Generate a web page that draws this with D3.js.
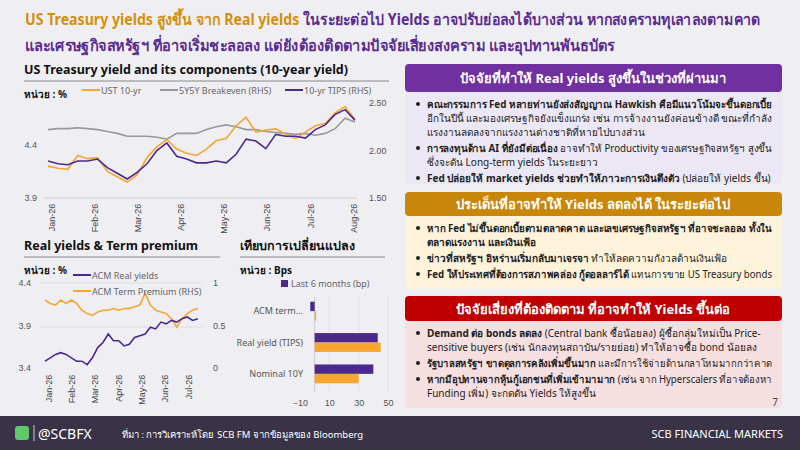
<!DOCTYPE html>
<html><head><meta charset="utf-8">
<script src="https://cdn.jsdelivr.net/npm/d3@7"></script>
<style>body{margin:0;background:#efeff3}svg{display:block;font-family:"Noto Sans",Tahoma,sans-serif}</style>
</head><body><svg id="c" width="800" height="450"></svg>
<script>
// data: chart 1 (weekly from early Jan 2026)
const ust10 = [4.20,4.18,4.17,4.30,4.27,4.28,4.15,4.10,4.05,4.12,4.28,4.38,4.45,4.36,4.32,4.30,4.36,4.44,4.46,4.58,4.66,4.52,4.54,4.55,4.50,4.46,4.52,4.58,4.60,4.70,4.76,4.64]
const breakeven = [2.22,2.23,2.23,2.24,2.23,2.22,2.20,2.18,2.15,2.15,2.15,2.14,2.12,2.18,2.18,2.18,2.22,2.25,2.27,2.25,2.22,2.22,2.20,2.19,2.18,2.17,2.18,2.16,2.18,2.23,2.34,2.30]
const tips10 = [1.89,1.86,1.85,1.89,1.89,1.91,1.82,1.76,1.70,1.77,1.86,2.00,2.08,1.94,1.91,1.87,1.87,1.89,1.87,1.96,2.12,2.10,2.02,2.17,2.15,2.15,2.13,2.22,2.27,2.38,2.43,2.32]
const months1 = ['Jan-26','Feb-26','Mar-26','Apr-26','May-26','Jun-26','Jul-26','Aug-26']
// chart 2
const acmReal = [3.48,3.52,3.56,3.58,3.56,3.52,3.48,3.48,3.44,3.52,3.64,3.70,3.80,3.72,3.72,3.66,3.68,3.76,3.78,3.80,3.88,3.86,3.94,3.92,3.96,3.94,3.98,4.00,3.96,3.98]
const acmTerm = [0.80,0.76,0.74,0.80,0.76,0.80,0.76,0.68,0.64,0.62,0.66,0.68,0.68,0.70,0.68,0.70,0.70,0.72,0.74,0.88,0.74,0.68,0.66,0.64,0.58,0.48,0.58,0.64,0.68,0.70]
const months2 = ['Jan-26','Feb-26','Mar-26','Apr-26','May-26','Jun-26','Jul-26']
// chart 3
const barCats = ['ACM term...','Real yield (TIPS)','Nominal 10Y']
const barLast6 = [-3,43,40]
const barOther = [1,45,30]

const svg = d3.select('#c')
const PUR = '#4b2a8c', ORA = '#f7a531', GRY = '#999'

// headline
const h = svg.append('text').attr('x',25).attr('y',25).attr('font-size',15.5).attr('font-weight','bold')
  .attr('textLength',735).attr('lengthAdjust','spacingAndGlyphs')
h.append('tspan').attr('fill','#d4900a').text('US Treasury yields สูงขึ้น จาก Real yields ')
h.append('tspan').attr('fill','#5b2d8e').text('ในระยะต่อไป Yields อาจปรับย่อลงได้บางส่วน หากสงครามทุเลาลงตามคาด')
svg.append('text').attr('x',25).attr('y',51).attr('font-size',15.5).attr('font-weight','bold').attr('fill','#5b2d8e')
  .attr('textLength',590).attr('lengthAdjust','spacingAndGlyphs')
  .text('และเศรษฐกิจสหรัฐฯ ที่อาจเริ่มชะลอลง แต่ยังต้องติดตามปัจจัยเสี่ยงสงคราม และอุปทานพันธบัตร')

function title(x, y, w, t) {
  svg.append('text').attr('x',x).attr('y',y).attr('font-size',12.5).attr('font-weight','bold').attr('fill','#111').text(t)
  svg.append('line').attr('x1',x).attr('x2',x+w).attr('y1',y+7).attr('y2',y+7).attr('stroke','#888').attr('stroke-width',1)
  svg.append('text').attr('x',x).attr('y',y+24).attr('font-size',10).attr('font-weight','bold').attr('fill','#111')
    .text(t.startsWith('เทียบ') ? 'หน่วย : Bps' : 'หน่วย : %')
}
function monthAxis(x, y, labels) {
  svg.append('g').attr('transform',`translate(0,${y})`).call(d3.axisBottom(x).tickValues(d3.range(labels.length)).tickSize(0).tickFormat(i => labels[i]))
    .call(g => g.select('.domain').remove())
    .selectAll('text').attr('font-size',9).attr('fill','#444').attr('transform','rotate(-90)').attr('text-anchor','end').attr('dx','-0.3em').attr('dy','0.35em')
}
function yAxis(scale, x, vals, fmt, right) {
  const a = (right ? d3.axisRight(scale) : d3.axisLeft(scale)).tickValues(vals).tickSize(0).tickFormat(fmt)
  svg.append('g').attr('transform',`translate(${x},0)`).call(a).call(g => g.select('.domain').remove())
    .selectAll('text').attr('font-size',9).attr('fill','#555')
}
function legendLine(x, y, c, t) {
  svg.append('line').attr('x1',x).attr('x2',x+18).attr('y1',y).attr('y2',y).attr('stroke',c).attr('stroke-width',2)
  svg.append('text').attr('x',x+19).attr('y',y+3.5).attr('font-size',9).attr('fill','#666').text(t)
}

// chart 1
title(24, 74, 365, 'US Treasury yield and its components (10-year yield)')
const x1 = d3.scaleLinear().domain([0,7]).range([48,350])
const xw1 = i => x1(i * 7 / 30.5)
const yL1 = d3.scaleLinear().domain([3.9,4.85]).range([198,97])
const yR1 = d3.scaleLinear().domain([1.5,2.5]).range([198,103])
svg.append('line').attr('x1',44).attr('x2',357).attr('y1',198).attr('y2',198).attr('stroke','#ccc')
yAxis(yL1, 40, [3.9,4.4], d3.format('.1f'), false)
yAxis(yR1, 366, [1.5,2.0,2.5], d3.format('.2f'), true)
monthAxis(x1, 201, months1)
const ln = (xf, yf) => d3.line().x((d,i) => xf(i)).y(yf)
svg.append('path').datum(breakeven).attr('d', ln(xw1, yR1)).attr('fill','none').attr('stroke',GRY).attr('stroke-width',1.6)
svg.append('path').datum(ust10).attr('d', ln(xw1, yL1)).attr('fill','none').attr('stroke',ORA).attr('stroke-width',1.6)
svg.append('path').datum(tips10).attr('d', ln(xw1, yR1)).attr('fill','none').attr('stroke',PUR).attr('stroke-width',1.6)
legendLine(82, 90, ORA, 'UST 10-yr')
legendLine(160, 90, GRY, '5Y5Y Breakeven (RHS)')
legendLine(285, 90, PUR, '10-yr TIPS (RHS)')

// chart 2
title(24, 250, 196, 'Real yields & Term premium')
const x2 = d3.scaleLinear().domain([0,6]).range([45,185])
const xw2 = i => x2(i * 6.55 / 29)
const yL2 = d3.scaleLinear().domain([3.4,4.4]).range([368,283])
const yR2 = d3.scaleLinear().domain([0,1]).range([368,283])
svg.append('line').attr('x1',40).attr('x2',202).attr('y1',283).attr('y2',283).attr('stroke','#ddd')
svg.append('line').attr('x1',40).attr('x2',202).attr('y1',327).attr('y2',327).attr('stroke','#ddd')
yAxis(yL2, 34, [3.4,3.9,4.4], d3.format('.1f'), false)
yAxis(yR2, 210, [0,0.5,1], d3.format(''), true)
monthAxis(x2, 372, months2)
svg.append('path').datum(acmTerm).attr('d', ln(xw2, yR2)).attr('fill','none').attr('stroke',ORA).attr('stroke-width',1.6)
svg.append('path').datum(acmReal).attr('d', ln(xw2, yL2)).attr('fill','none').attr('stroke',PUR).attr('stroke-width',1.6)
legendLine(73, 275, PUR, 'ACM Real yields')
legendLine(73, 291, ORA, 'ACM Term Premium (RHS)')

// chart 3
title(240, 250, 145, 'เทียบการเปลี่ยนแปลง')
const xb = d3.scaleLinear().domain([-10,50]).range([300,388])
const yb = d3.scaleBand().domain(barCats).range([297,388]).paddingInner(0.4).paddingOuter(0.15)
svg.append('g').attr('transform','translate(0,397)').call(d3.axisBottom(xb).tickValues([-10,10,30,50]).tickSize(0))
  .call(g => g.select('.domain').remove()).selectAll('text').attr('font-size',9).attr('fill','#555')
;[10,30,50].forEach(v => svg.append('line').attr('x1',xb(v)).attr('x2',xb(v)).attr('y1',297).attr('y2',392).attr('stroke','#e2e2e2'))
svg.append('line').attr('x1',xb(0)).attr('x2',xb(0)).attr('y1',297).attr('y2',392).attr('stroke','#ccc')
const bh = yb.bandwidth() / 2
svg.selectAll('.b1').data(barCats).join('rect').attr('x', (d,i) => xb(Math.min(0,barLast6[i]))).attr('y', d => yb(d))
  .attr('width', (d,i) => Math.abs(xb(barLast6[i]) - xb(0))).attr('height', bh).attr('fill', PUR)
svg.selectAll('.b2').data(barCats).join('rect').attr('x', (d,i) => xb(Math.min(0,barOther[i]))).attr('y', d => yb(d) + bh)
  .attr('width', (d,i) => Math.abs(xb(barOther[i]) - xb(0))).attr('height', bh).attr('fill', ORA)
svg.selectAll('.bl').data(barCats).join('text').attr('x', 303).attr('y', d => yb(d) + bh + 3).attr('text-anchor','end')
  .attr('font-size',9).attr('fill','#555').text(d => d)
svg.append('rect').attr('x',281).attr('y',280).attr('width',7).attr('height',7).attr('fill',PUR)
svg.append('text').attr('x',291).attr('y',287).attr('font-size',9).attr('fill','#666').text('Last 6 months (bp)')

// right panels
const panels = [
  {y:64, hh:28, bh:92, hc:'#7030a0', bc:'#ebe7f4', t:'ปัจจัยที่ทำให้ Real yields สูงขึ้นในช่วงที่ผ่านมา', items:[
    [['คณะกรรมการ Fed หลายท่านยังส่งสัญญาณ Hawkish คือมีแนวโน้มจะขึ้นดอกเบี้ย',1],['อีกในปีนี้ และมองเศรษฐกิจยังแข็งแกร่ง เช่น การจ้างงานยังค่อนข้างดี ขณะที่กำลัง',0],['แรงงานลดลงจากแรงงานต่างชาติที่หายไปบางส่วน',0]],
    [['การลงทุนด้าน AI ที่ยังมีต่อเนื่อง',1,' อาจทำให้ Productivity ของเศรษฐกิจสหรัฐฯ สูงขึ้น'],['ซึ่งจะดัน Long-term yields ในระยะยาว',0]],
    [['Fed ปล่อยให้ market yields ช่วยทำให้ภาวะการเงินตึงตัว',1,' (ปล่อยให้ yields ขึ้น)']]]},
  {y:192, hh:24, bh:73, hc:'#c8860a', bc:'#fdf2da', t:'ประเด็นที่อาจทำให้ Yields ลดลงได้ ในระยะต่อไป', items:[
    [['หาก Fed ไม่ขึ้นดอกเบี้ยตามตลาดคาด และเลขเศรษฐกิจสหรัฐฯ ที่อาจชะลอลง ทั้งใน',1],['ตลาดแรงงาน และเงินเฟ้อ',1]],
    [['ข่าวที่สหรัฐฯ อิหร่านเริ่มกลับมาเจรจา',1,' ทำให้ลดความกังวลด้านเงินเฟ้อ']],
    [['Fed ให้ประเทศที่ต้องการสภาพคล่อง กู้ดอลลาร์ได้',1,' แทนการขาย US Treasury bonds']]]},
  {y:296, hh:25, bh:87, hc:'#c00000', bc:'#f6dfe1', t:'ปัจจัยเสี่ยงที่ต้องติดตาม ที่อาจทำให้ Yields ขึ้นต่อ', items:[
    [['Demand ต่อ bonds ลดลง',1,' (Central bank ซื้อน้อยลง) ผู้ซื้อกลุ่มใหม่เป็น Price-'],['sensitive buyers (เช่น นักลงทุนสถาบัน/รายย่อย) ทำให้อาจซื้อ bond น้อยลง',0]],
    [['รัฐบาลสหรัฐฯ ขาดดุลการคลังเพิ่มขึ้นมาก',1,' และมีการใช้จ่ายด้านกลาโหมมากกว่าคาด']],
    [['หากมีอุปทานจากหุ้นกู้เอกชนที่เพิ่มเข้ามามาก',1,' (เช่น จาก Hyperscalers ที่อาจต้องหา'],['Funding เพิ่ม) จะกดดัน Yields ให้สูงขึ้น',0]]]}
]
panels.forEach(p => {
  svg.append('rect').attr('x',405).attr('y',p.y+p.hh-4).attr('width',377).attr('height',p.bh+4).attr('rx',4).attr('fill',p.bc)
  svg.append('rect').attr('x',405).attr('y',p.y).attr('width',377).attr('height',p.hh).attr('rx',4).attr('fill',p.hc)
  svg.append('text').attr('x',593).attr('y',p.y+p.hh/2+5).attr('text-anchor','middle').attr('font-size',13).attr('font-weight','bold').attr('fill','#fff').text(p.t)
  let y = p.y + p.hh + 16
  p.items.forEach(it => {
    svg.append('circle').attr('cx',418).attr('cy',y-4).attr('r',2).attr('fill','#222')
    it.forEach(l => {
      const t = svg.append('text').attr('x',427).attr('y',y).attr('font-size',10).attr('fill','#222')
      t.append('tspan').attr('font-weight', l[1] ? 'bold' : 'normal').text(l[0])
      if (l[2]) t.append('tspan').text(l[2])
      const w = t.node().getComputedTextLength()
      if (w > 345) t.attr('textLength',345).attr('lengthAdjust','spacingAndGlyphs')
      y += 14
    })
    y += 2
  })
})
svg.append('text').attr('x',778).attr('y',406).attr('text-anchor','end').attr('font-size',10).attr('fill','#444').text('7')

// footer
svg.append('rect').attr('x',0).attr('y',416).attr('width',800).attr('height',34).attr('fill','#3a3347')
svg.append('rect').attr('x',15).attr('y',426).attr('width',14).attr('height',14).attr('rx',3).attr('fill','#5fc86a')
svg.append('line').attr('x1',34).attr('x2',34).attr('y1',425).attr('y2',441).attr('stroke','#ccc')
svg.append('text').attr('x',38).attr('y',439).attr('font-size',14).attr('fill','#fff').text('@SCBFX')
svg.append('text').attr('x',122).attr('y',438).attr('font-size',9.5).attr('fill','#fff').text('ที่มา : การวิเคราะห์โดย SCB FM จากข้อมูลของ Bloomberg')
svg.append('text').attr('x',783).attr('y',438).attr('text-anchor','end').attr('font-size',11).attr('fill','#fff').text('SCB FINANCIAL MARKETS')
</script></body></html>
